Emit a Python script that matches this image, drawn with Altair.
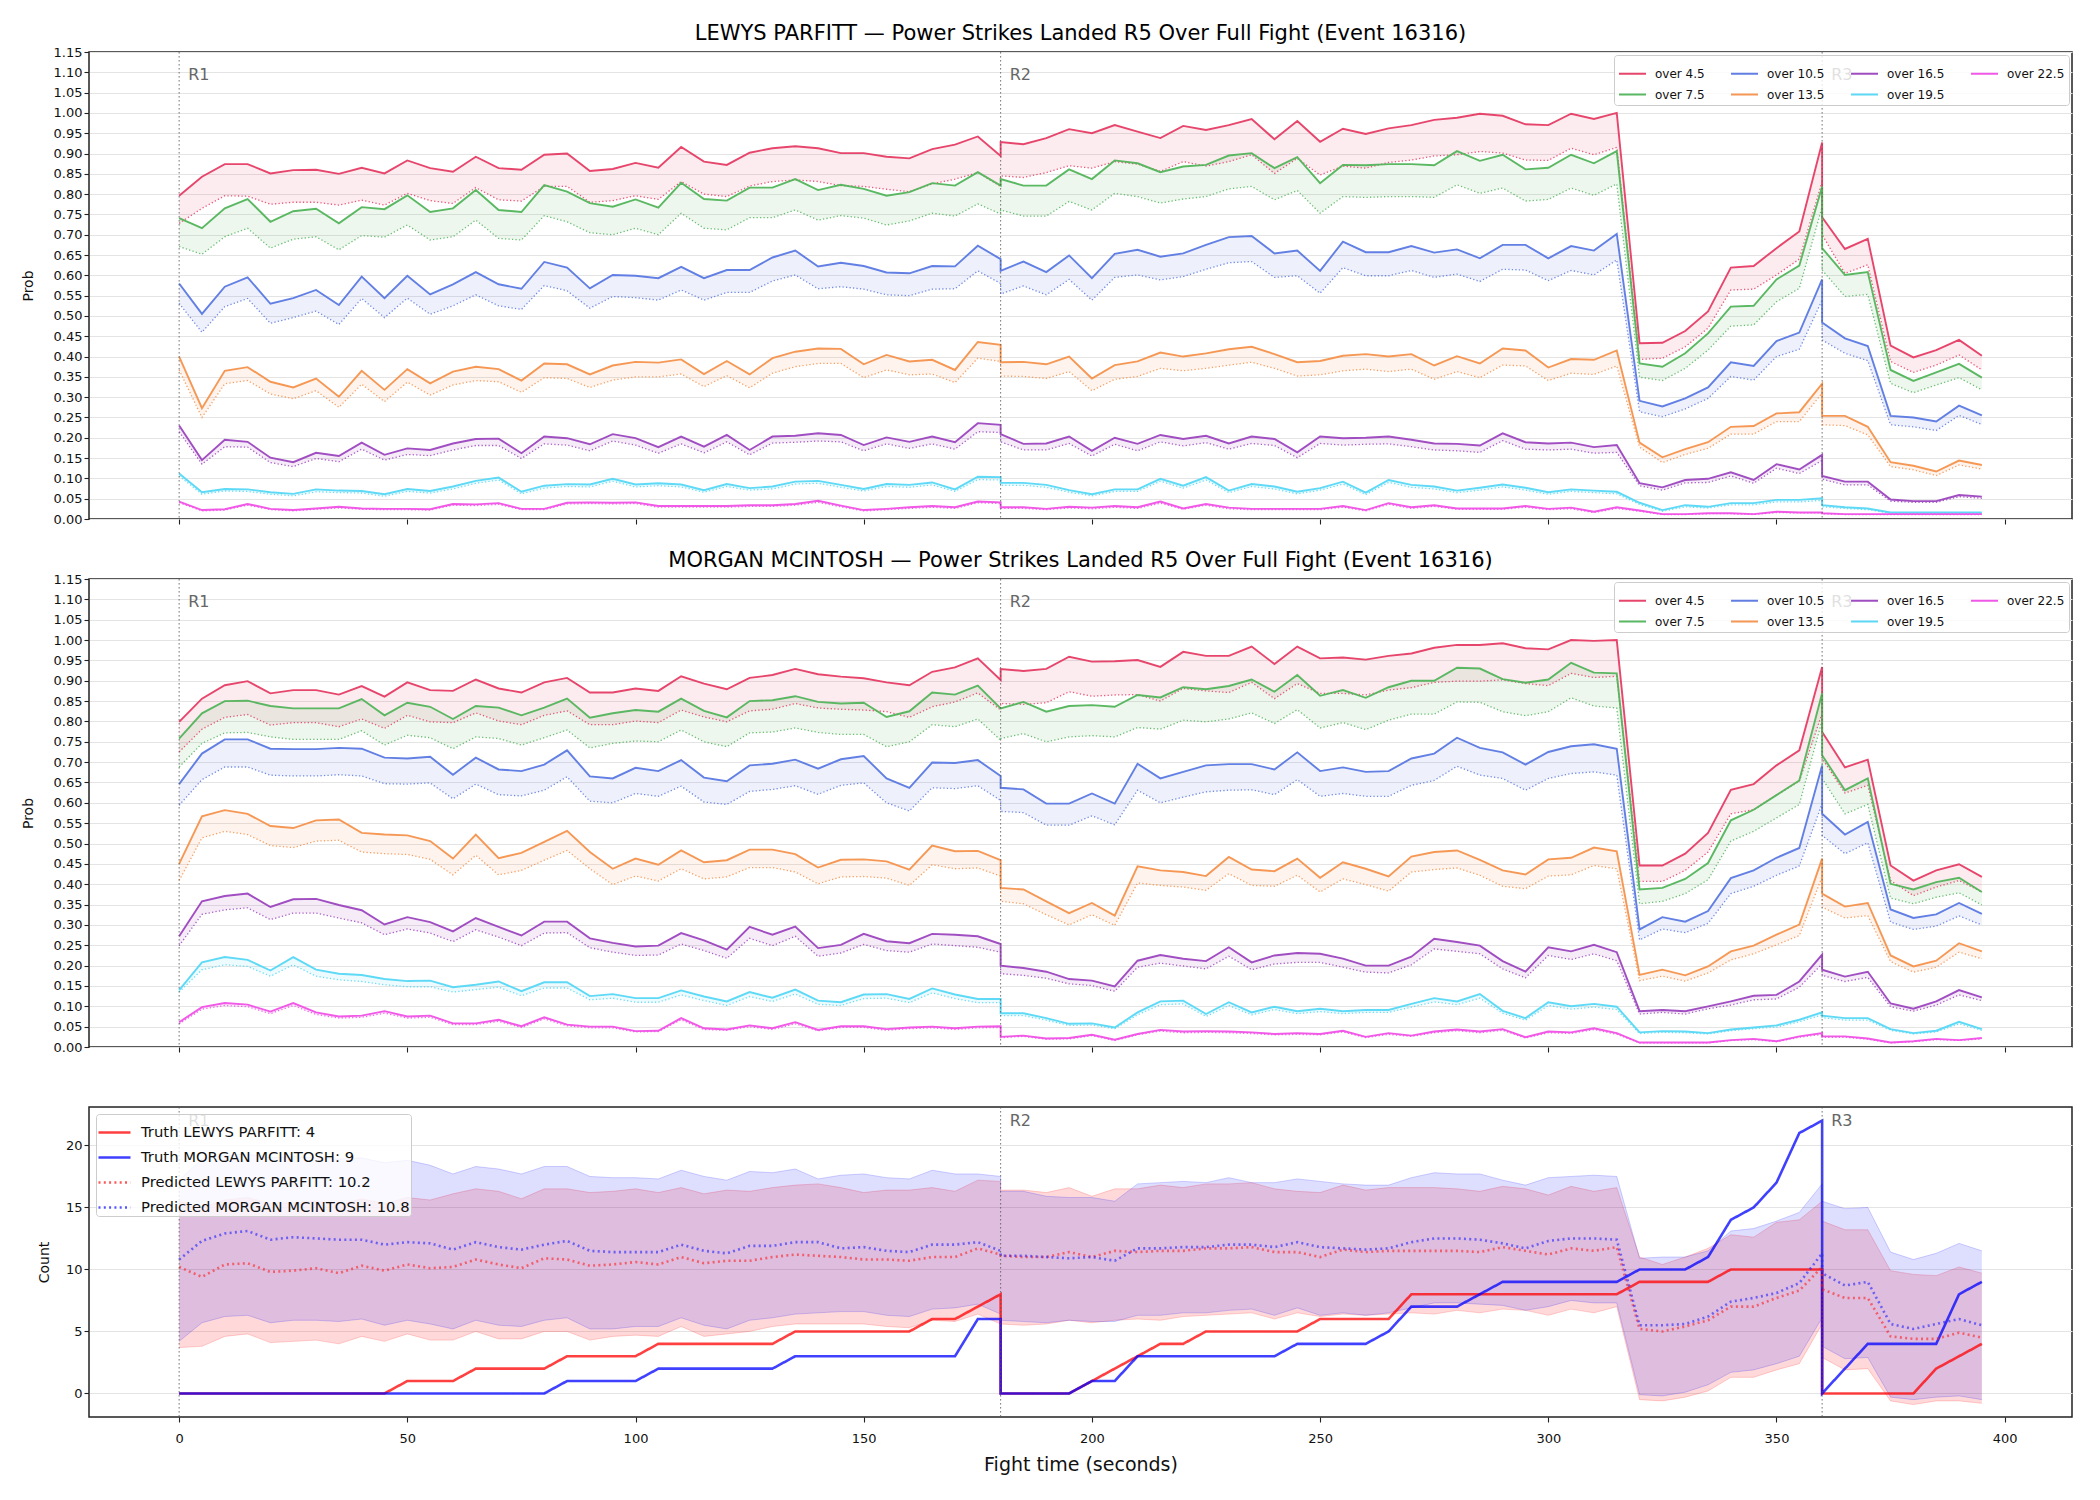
import altair as alt
import pandas as pd

FONT = "DejaVu Sans"

# Time grid in seconds; round boundaries appear twice so each round starts fresh
R1_T = list(range(0, 181, 5))
R2_T = list(range(180, 361, 5))
R3_T = list(range(360, 396, 5))
TIMES = R1_T + R2_T + R3_T

SERIES = ["over 4.5", "over 7.5", "over 10.5", "over 13.5", "over 16.5", "over 19.5", "over 22.5"]
SERIES_KEYS = ["k45", "k75", "k105", "k135", "k165", "k195", "k225"]
SERIES_COLORS = ["#e63c64", "#52b45a", "#5a78e1", "#f5924c", "#9b44be", "#55d7f5", "#f050e6"]

ROUND_T = [0, 180, 360]
ROUND_LABELS = ["R1", "R2", "R3"]

X_DOMAIN = [-19.75, 414.75]
X_TICKS = [0, 50, 100, 150, 200, 250, 300, 350, 400]
PROB_TICKS = [0.00, 0.05, 0.10, 0.15, 0.20, 0.25, 0.30, 0.35, 0.40, 0.45, 0.50, 0.55,
              0.60, 0.65, 0.70, 0.75, 0.80, 0.85, 0.90, 0.95, 1.00, 1.05, 1.10, 1.15]
COUNT_TICKS = [0, 5, 10, 15, 20]

# ---------------- LEWYS PARFITT: live (solid) and baseline (dotted) ----------------
LP_45 = [0.796, 0.843, 0.874, 0.874, 0.851, 0.859, 0.860, 0.850, 0.865, 0.851, 0.883, 0.864, 0.855, 0.892, 0.864, 0.860, 0.897, 0.900, 0.857, 0.862, 0.877, 0.865, 0.916, 0.880, 0.872, 0.902, 0.913, 0.918, 0.913, 0.901, 0.901, 0.892, 0.888, 0.911, 0.922, 0.942, 0.894,
         0.928, 0.923, 0.938, 0.960, 0.950, 0.970, 0.954, 0.938, 0.968, 0.958, 0.970, 0.985, 0.935, 0.980, 0.929, 0.961, 0.948, 0.962, 0.970, 0.983, 0.988, 0.998, 0.993, 0.972, 0.970, 0.998, 0.985, 1.000, 0.433, 0.434, 0.463, 0.511, 0.619, 0.623, 0.667, 0.708, 0.927,
         0.743, 0.665, 0.690, 0.427, 0.398, 0.416, 0.441, 0.402]
LP_45_D = [0.728, 0.765, 0.796, 0.795, 0.775, 0.780, 0.780, 0.773, 0.785, 0.773, 0.802, 0.784, 0.777, 0.816, 0.786, 0.783, 0.819, 0.819, 0.780, 0.784, 0.796, 0.787, 0.831, 0.800, 0.794, 0.820, 0.831, 0.835, 0.831, 0.821, 0.819, 0.812, 0.806, 0.825, 0.837, 0.853, 0.819,
           0.845, 0.841, 0.853, 0.870, 0.864, 0.880, 0.874, 0.856, 0.880, 0.869, 0.880, 0.897, 0.851, 0.888, 0.847, 0.869, 0.864, 0.878, 0.884, 0.894, 0.897, 0.905, 0.901, 0.884, 0.883, 0.913, 0.897, 0.915, 0.393, 0.396, 0.424, 0.470, 0.564, 0.566, 0.601, 0.640, 0.831,
           0.700, 0.605, 0.626, 0.388, 0.361, 0.379, 0.404, 0.367]
LP_75 = [0.741, 0.716, 0.765, 0.788, 0.732, 0.758, 0.764, 0.728, 0.768, 0.763, 0.797, 0.756, 0.765, 0.810, 0.761, 0.756, 0.822, 0.806, 0.778, 0.769, 0.787, 0.767, 0.828, 0.788, 0.784, 0.816, 0.816, 0.837, 0.810, 0.823, 0.813, 0.796, 0.805, 0.827, 0.821, 0.854, 0.821,
         0.837, 0.821, 0.821, 0.861, 0.837, 0.883, 0.876, 0.854, 0.868, 0.872, 0.895, 0.901, 0.864, 0.891, 0.827, 0.872, 0.871, 0.874, 0.874, 0.871, 0.906, 0.882, 0.897, 0.861, 0.865, 0.897, 0.876, 0.906, 0.383, 0.375, 0.408, 0.457, 0.523, 0.525, 0.590, 0.624, 0.819,
         0.667, 0.601, 0.608, 0.367, 0.340, 0.361, 0.382, 0.348]
LP_75_D = [0.671, 0.652, 0.695, 0.716, 0.667, 0.689, 0.695, 0.663, 0.698, 0.694, 0.724, 0.687, 0.695, 0.736, 0.691, 0.687, 0.747, 0.732, 0.705, 0.700, 0.716, 0.700, 0.753, 0.716, 0.712, 0.742, 0.742, 0.761, 0.736, 0.747, 0.741, 0.724, 0.734, 0.753, 0.746, 0.776, 0.751,
           0.761, 0.746, 0.746, 0.782, 0.761, 0.802, 0.794, 0.778, 0.788, 0.794, 0.813, 0.819, 0.786, 0.809, 0.753, 0.794, 0.792, 0.794, 0.794, 0.792, 0.823, 0.802, 0.815, 0.783, 0.787, 0.815, 0.797, 0.825, 0.349, 0.341, 0.371, 0.416, 0.475, 0.478, 0.535, 0.568, 0.769,
           0.613, 0.548, 0.553, 0.334, 0.311, 0.330, 0.348, 0.318]
LP_105 = [0.580, 0.505, 0.572, 0.595, 0.530, 0.544, 0.564, 0.527, 0.597, 0.544, 0.599, 0.553, 0.578, 0.608, 0.578, 0.567, 0.633, 0.619, 0.568, 0.601, 0.599, 0.593, 0.621, 0.593, 0.613, 0.613, 0.644, 0.661, 0.622, 0.631, 0.623, 0.607, 0.605, 0.623, 0.622, 0.673, 0.640,
          0.611, 0.634, 0.608, 0.649, 0.593, 0.653, 0.663, 0.646, 0.654, 0.675, 0.694, 0.697, 0.654, 0.661, 0.611, 0.683, 0.657, 0.657, 0.672, 0.656, 0.664, 0.642, 0.675, 0.675, 0.642, 0.672, 0.661, 0.702, 0.291, 0.277, 0.297, 0.324, 0.386, 0.377, 0.438, 0.459, 0.590,
          0.484, 0.445, 0.426, 0.254, 0.250, 0.240, 0.279, 0.255]
LP_105_D = [0.531, 0.460, 0.523, 0.543, 0.482, 0.496, 0.512, 0.479, 0.543, 0.496, 0.544, 0.504, 0.525, 0.552, 0.525, 0.516, 0.575, 0.562, 0.519, 0.548, 0.545, 0.539, 0.564, 0.539, 0.558, 0.558, 0.586, 0.601, 0.567, 0.572, 0.566, 0.552, 0.550, 0.566, 0.567, 0.611, 0.580,
            0.554, 0.574, 0.552, 0.590, 0.539, 0.595, 0.601, 0.589, 0.597, 0.615, 0.631, 0.634, 0.595, 0.599, 0.556, 0.619, 0.599, 0.599, 0.612, 0.595, 0.603, 0.585, 0.615, 0.613, 0.587, 0.612, 0.601, 0.638, 0.264, 0.252, 0.271, 0.297, 0.351, 0.342, 0.400, 0.418, 0.539,
            0.441, 0.408, 0.390, 0.232, 0.227, 0.218, 0.255, 0.233]
LP_135 = [0.400, 0.273, 0.365, 0.374, 0.338, 0.324, 0.346, 0.301, 0.365, 0.318, 0.369, 0.334, 0.363, 0.375, 0.369, 0.341, 0.383, 0.381, 0.356, 0.378, 0.387, 0.385, 0.393, 0.357, 0.389, 0.356, 0.396, 0.412, 0.420, 0.419, 0.381, 0.404, 0.388, 0.392, 0.367, 0.436, 0.429,
          0.386, 0.387, 0.381, 0.400, 0.346, 0.379, 0.388, 0.410, 0.400, 0.408, 0.418, 0.424, 0.406, 0.386, 0.389, 0.402, 0.406, 0.400, 0.406, 0.378, 0.401, 0.383, 0.420, 0.415, 0.373, 0.394, 0.392, 0.415, 0.188, 0.152, 0.172, 0.189, 0.227, 0.229, 0.260, 0.263, 0.333,
          0.254, 0.254, 0.227, 0.140, 0.131, 0.117, 0.144, 0.133]
LP_135_D = [0.367, 0.250, 0.333, 0.341, 0.308, 0.296, 0.316, 0.275, 0.332, 0.289, 0.337, 0.305, 0.330, 0.341, 0.338, 0.312, 0.348, 0.346, 0.324, 0.342, 0.350, 0.350, 0.357, 0.326, 0.353, 0.323, 0.359, 0.375, 0.383, 0.383, 0.348, 0.367, 0.355, 0.357, 0.336, 0.396, 0.388,
            0.352, 0.351, 0.346, 0.363, 0.316, 0.344, 0.351, 0.371, 0.365, 0.371, 0.379, 0.386, 0.371, 0.352, 0.355, 0.365, 0.369, 0.363, 0.369, 0.344, 0.363, 0.348, 0.379, 0.377, 0.341, 0.359, 0.356, 0.377, 0.177, 0.139, 0.159, 0.174, 0.209, 0.209, 0.240, 0.240, 0.310,
            0.232, 0.230, 0.207, 0.129, 0.121, 0.107, 0.133, 0.123]
LP_165 = [0.230, 0.145, 0.195, 0.190, 0.151, 0.140, 0.163, 0.155, 0.188, 0.158, 0.174, 0.170, 0.186, 0.197, 0.198, 0.162, 0.203, 0.199, 0.184, 0.209, 0.199, 0.177, 0.203, 0.178, 0.207, 0.170, 0.203, 0.205, 0.211, 0.207, 0.182, 0.201, 0.190, 0.203, 0.189, 0.236, 0.232,
          0.209, 0.185, 0.186, 0.203, 0.168, 0.200, 0.185, 0.207, 0.197, 0.205, 0.186, 0.203, 0.197, 0.164, 0.203, 0.199, 0.200, 0.203, 0.195, 0.186, 0.185, 0.181, 0.211, 0.189, 0.186, 0.188, 0.177, 0.182, 0.088, 0.078, 0.096, 0.099, 0.115, 0.096, 0.135, 0.122, 0.158,
          0.106, 0.092, 0.092, 0.048, 0.044, 0.044, 0.059, 0.055]
LP_165_D = [0.215, 0.135, 0.178, 0.177, 0.139, 0.129, 0.149, 0.141, 0.172, 0.145, 0.159, 0.156, 0.170, 0.181, 0.181, 0.149, 0.185, 0.182, 0.168, 0.192, 0.182, 0.162, 0.185, 0.163, 0.190, 0.158, 0.187, 0.189, 0.192, 0.190, 0.168, 0.185, 0.174, 0.185, 0.172, 0.215, 0.213,
            0.190, 0.170, 0.170, 0.186, 0.155, 0.184, 0.168, 0.190, 0.180, 0.188, 0.172, 0.186, 0.181, 0.151, 0.186, 0.182, 0.184, 0.185, 0.178, 0.170, 0.168, 0.164, 0.193, 0.172, 0.170, 0.172, 0.162, 0.164, 0.082, 0.071, 0.089, 0.090, 0.106, 0.088, 0.125, 0.112, 0.144,
            0.098, 0.084, 0.084, 0.044, 0.041, 0.041, 0.055, 0.051]
LP_195 = [0.112, 0.066, 0.074, 0.073, 0.066, 0.062, 0.073, 0.070, 0.069, 0.061, 0.074, 0.069, 0.080, 0.094, 0.102, 0.067, 0.082, 0.086, 0.085, 0.099, 0.085, 0.088, 0.085, 0.071, 0.086, 0.076, 0.080, 0.092, 0.094, 0.084, 0.074, 0.086, 0.084, 0.090, 0.073, 0.104, 0.103,
          0.089, 0.089, 0.084, 0.071, 0.061, 0.073, 0.073, 0.099, 0.082, 0.103, 0.070, 0.086, 0.080, 0.067, 0.076, 0.092, 0.065, 0.096, 0.084, 0.080, 0.070, 0.077, 0.085, 0.077, 0.066, 0.073, 0.070, 0.067, 0.040, 0.022, 0.034, 0.030, 0.039, 0.039, 0.047, 0.047, 0.051,
          0.034, 0.029, 0.026, 0.016, 0.016, 0.016, 0.016, 0.016]
LP_195_D = [0.106, 0.061, 0.069, 0.068, 0.061, 0.057, 0.067, 0.065, 0.064, 0.056, 0.068, 0.064, 0.074, 0.088, 0.096, 0.062, 0.076, 0.080, 0.079, 0.093, 0.079, 0.082, 0.079, 0.066, 0.080, 0.071, 0.074, 0.086, 0.088, 0.078, 0.069, 0.080, 0.078, 0.084, 0.068, 0.097, 0.096,
            0.083, 0.083, 0.078, 0.066, 0.057, 0.068, 0.068, 0.093, 0.076, 0.096, 0.065, 0.080, 0.074, 0.062, 0.071, 0.086, 0.060, 0.090, 0.078, 0.074, 0.065, 0.071, 0.079, 0.071, 0.061, 0.068, 0.065, 0.062, 0.036, 0.019, 0.030, 0.027, 0.035, 0.035, 0.042, 0.042, 0.046,
            0.030, 0.026, 0.023, 0.014, 0.014, 0.014, 0.014, 0.014]
LP_225 = [0.043, 0.022, 0.024, 0.037, 0.025, 0.022, 0.026, 0.030, 0.026, 0.025, 0.025, 0.024, 0.037, 0.036, 0.039, 0.025, 0.025, 0.040, 0.041, 0.040, 0.041, 0.032, 0.032, 0.032, 0.032, 0.034, 0.034, 0.037, 0.045, 0.033, 0.022, 0.025, 0.029, 0.032, 0.029, 0.043, 0.041,
          0.029, 0.029, 0.025, 0.030, 0.028, 0.032, 0.029, 0.043, 0.026, 0.037, 0.028, 0.025, 0.025, 0.025, 0.025, 0.032, 0.022, 0.039, 0.029, 0.034, 0.026, 0.026, 0.026, 0.032, 0.025, 0.028, 0.018, 0.029, 0.021, 0.012, 0.012, 0.014, 0.014, 0.012, 0.018, 0.016, 0.016,
          0.014, 0.012, 0.012, 0.012, 0.012, 0.012, 0.012, 0.012]
LP_225_D = [0.040, 0.020, 0.022, 0.034, 0.023, 0.020, 0.024, 0.027, 0.024, 0.023, 0.023, 0.022, 0.034, 0.033, 0.036, 0.023, 0.023, 0.037, 0.038, 0.037, 0.038, 0.029, 0.029, 0.029, 0.029, 0.031, 0.031, 0.034, 0.041, 0.030, 0.020, 0.023, 0.026, 0.029, 0.026, 0.040, 0.038,
            0.026, 0.026, 0.023, 0.027, 0.025, 0.029, 0.026, 0.039, 0.024, 0.034, 0.025, 0.023, 0.023, 0.023, 0.023, 0.029, 0.020, 0.036, 0.026, 0.031, 0.024, 0.024, 0.024, 0.029, 0.023, 0.025, 0.016, 0.026, 0.019, 0.011, 0.011, 0.013, 0.013, 0.011, 0.016, 0.015, 0.015,
            0.013, 0.011, 0.011, 0.011, 0.011, 0.011, 0.011, 0.011]

# ---------------- MORGAN MCINTOSH: live (solid) and baseline (dotted) ----------------
MM_45 = [0.799, 0.856, 0.889, 0.899, 0.869, 0.877, 0.877, 0.866, 0.887, 0.861, 0.896, 0.877, 0.875, 0.903, 0.881, 0.871, 0.896, 0.907, 0.871, 0.871, 0.881, 0.875, 0.911, 0.893, 0.879, 0.907, 0.914, 0.929, 0.916, 0.910, 0.906, 0.896, 0.889, 0.922, 0.933, 0.955, 0.902,
         0.929, 0.924, 0.929, 0.959, 0.947, 0.948, 0.951, 0.934, 0.971, 0.961, 0.961, 0.984, 0.941, 0.984, 0.955, 0.957, 0.952, 0.961, 0.967, 0.981, 0.988, 0.988, 0.992, 0.980, 0.977, 1.000, 0.998, 1.000, 0.446, 0.446, 0.475, 0.526, 0.632, 0.646, 0.692, 0.729, 0.934,
         0.774, 0.687, 0.706, 0.446, 0.409, 0.434, 0.449, 0.418]
MM_45_D = [0.725, 0.781, 0.810, 0.817, 0.791, 0.797, 0.797, 0.787, 0.806, 0.783, 0.815, 0.799, 0.797, 0.821, 0.801, 0.792, 0.815, 0.826, 0.792, 0.792, 0.801, 0.797, 0.828, 0.811, 0.799, 0.826, 0.830, 0.844, 0.833, 0.830, 0.828, 0.824, 0.810, 0.836, 0.848, 0.870, 0.828,
           0.844, 0.842, 0.846, 0.873, 0.862, 0.865, 0.866, 0.850, 0.881, 0.875, 0.871, 0.896, 0.856, 0.893, 0.869, 0.869, 0.865, 0.877, 0.883, 0.896, 0.899, 0.899, 0.902, 0.893, 0.888, 0.918, 0.908, 0.911, 0.407, 0.407, 0.434, 0.479, 0.573, 0.583, 0.619, 0.653, 0.820,
           0.709, 0.624, 0.643, 0.409, 0.372, 0.393, 0.409, 0.381]
MM_75 = [0.758, 0.820, 0.850, 0.851, 0.838, 0.832, 0.832, 0.832, 0.855, 0.815, 0.846, 0.836, 0.806, 0.838, 0.834, 0.815, 0.834, 0.856, 0.809, 0.820, 0.828, 0.824, 0.856, 0.826, 0.810, 0.850, 0.852, 0.862, 0.848, 0.844, 0.846, 0.811, 0.825, 0.871, 0.866, 0.888, 0.832,
         0.832, 0.848, 0.824, 0.838, 0.840, 0.836, 0.865, 0.859, 0.884, 0.879, 0.887, 0.903, 0.873, 0.914, 0.863, 0.877, 0.858, 0.884, 0.900, 0.900, 0.932, 0.930, 0.904, 0.895, 0.903, 0.944, 0.920, 0.918, 0.387, 0.391, 0.413, 0.452, 0.557, 0.583, 0.619, 0.655, 0.869,
         0.717, 0.631, 0.660, 0.401, 0.387, 0.405, 0.416, 0.381]
MM_75_D = [0.688, 0.746, 0.772, 0.773, 0.762, 0.756, 0.756, 0.756, 0.777, 0.742, 0.766, 0.760, 0.733, 0.762, 0.758, 0.742, 0.760, 0.779, 0.735, 0.746, 0.752, 0.750, 0.779, 0.750, 0.738, 0.772, 0.774, 0.784, 0.773, 0.768, 0.768, 0.738, 0.750, 0.792, 0.787, 0.806, 0.754,
           0.758, 0.770, 0.750, 0.762, 0.765, 0.762, 0.785, 0.781, 0.803, 0.799, 0.806, 0.821, 0.795, 0.829, 0.784, 0.797, 0.780, 0.803, 0.818, 0.818, 0.848, 0.847, 0.824, 0.814, 0.824, 0.858, 0.838, 0.833, 0.352, 0.358, 0.377, 0.411, 0.506, 0.530, 0.563, 0.596, 0.803,
           0.660, 0.573, 0.596, 0.366, 0.352, 0.368, 0.379, 0.349]
MM_105 = [0.646, 0.721, 0.756, 0.756, 0.733, 0.732, 0.732, 0.735, 0.733, 0.711, 0.709, 0.713, 0.669, 0.711, 0.682, 0.678, 0.694, 0.729, 0.665, 0.660, 0.686, 0.678, 0.705, 0.662, 0.653, 0.692, 0.696, 0.706, 0.684, 0.707, 0.715, 0.660, 0.637, 0.699, 0.698, 0.705, 0.666,
          0.637, 0.633, 0.598, 0.598, 0.623, 0.598, 0.696, 0.660, 0.676, 0.692, 0.695, 0.695, 0.682, 0.724, 0.678, 0.687, 0.676, 0.678, 0.709, 0.721, 0.760, 0.735, 0.724, 0.694, 0.725, 0.739, 0.744, 0.733, 0.289, 0.319, 0.308, 0.334, 0.415, 0.434, 0.465, 0.489, 0.692,
          0.573, 0.522, 0.553, 0.338, 0.317, 0.326, 0.354, 0.327]
MM_105_D = [0.594, 0.657, 0.688, 0.688, 0.668, 0.666, 0.666, 0.669, 0.666, 0.647, 0.646, 0.649, 0.610, 0.646, 0.620, 0.617, 0.631, 0.664, 0.604, 0.600, 0.623, 0.616, 0.641, 0.602, 0.596, 0.628, 0.633, 0.642, 0.621, 0.643, 0.649, 0.600, 0.580, 0.637, 0.635, 0.642, 0.606,
            0.579, 0.576, 0.545, 0.545, 0.568, 0.546, 0.631, 0.600, 0.614, 0.627, 0.631, 0.632, 0.620, 0.657, 0.616, 0.623, 0.616, 0.616, 0.643, 0.655, 0.690, 0.668, 0.660, 0.631, 0.660, 0.672, 0.676, 0.668, 0.263, 0.290, 0.281, 0.304, 0.377, 0.395, 0.422, 0.445, 0.598,
            0.520, 0.475, 0.502, 0.307, 0.289, 0.297, 0.322, 0.300]
MM_135 = [0.450, 0.567, 0.582, 0.573, 0.543, 0.538, 0.557, 0.559, 0.526, 0.522, 0.520, 0.506, 0.463, 0.522, 0.464, 0.477, 0.504, 0.531, 0.479, 0.438, 0.463, 0.448, 0.483, 0.454, 0.459, 0.485, 0.485, 0.474, 0.441, 0.460, 0.461, 0.456, 0.436, 0.495, 0.481, 0.482, 0.459,
          0.391, 0.387, 0.358, 0.329, 0.354, 0.323, 0.444, 0.434, 0.430, 0.420, 0.467, 0.436, 0.432, 0.463, 0.416, 0.454, 0.438, 0.419, 0.468, 0.479, 0.483, 0.460, 0.434, 0.424, 0.461, 0.465, 0.490, 0.481, 0.177, 0.190, 0.176, 0.198, 0.235, 0.249, 0.276, 0.301, 0.463,
          0.377, 0.345, 0.354, 0.225, 0.198, 0.212, 0.255, 0.235]
MM_135_D = [0.409, 0.514, 0.530, 0.522, 0.495, 0.490, 0.506, 0.508, 0.479, 0.475, 0.473, 0.461, 0.423, 0.471, 0.423, 0.434, 0.459, 0.483, 0.438, 0.399, 0.420, 0.408, 0.438, 0.413, 0.418, 0.441, 0.441, 0.430, 0.401, 0.418, 0.419, 0.415, 0.397, 0.448, 0.438, 0.440, 0.420,
            0.358, 0.352, 0.325, 0.300, 0.325, 0.299, 0.403, 0.397, 0.393, 0.385, 0.426, 0.397, 0.395, 0.422, 0.381, 0.413, 0.399, 0.383, 0.430, 0.436, 0.440, 0.422, 0.395, 0.389, 0.420, 0.423, 0.446, 0.438, 0.163, 0.174, 0.162, 0.182, 0.214, 0.229, 0.251, 0.274, 0.418,
            0.344, 0.317, 0.323, 0.210, 0.184, 0.196, 0.233, 0.217]
MM_165 = [0.272, 0.358, 0.371, 0.377, 0.344, 0.363, 0.364, 0.349, 0.336, 0.301, 0.319, 0.307, 0.284, 0.317, 0.295, 0.274, 0.308, 0.308, 0.267, 0.256, 0.247, 0.249, 0.280, 0.262, 0.239, 0.295, 0.276, 0.296, 0.243, 0.251, 0.278, 0.260, 0.255, 0.278, 0.276, 0.272, 0.253,
          0.200, 0.194, 0.185, 0.167, 0.163, 0.149, 0.212, 0.226, 0.217, 0.211, 0.245, 0.208, 0.225, 0.231, 0.229, 0.217, 0.200, 0.200, 0.222, 0.266, 0.258, 0.249, 0.211, 0.185, 0.245, 0.235, 0.251, 0.233, 0.088, 0.091, 0.088, 0.100, 0.112, 0.126, 0.128, 0.161, 0.227,
          0.190, 0.173, 0.185, 0.107, 0.094, 0.112, 0.140, 0.122]
MM_165_D = [0.249, 0.326, 0.337, 0.342, 0.313, 0.329, 0.329, 0.317, 0.305, 0.276, 0.290, 0.280, 0.259, 0.288, 0.270, 0.249, 0.280, 0.281, 0.244, 0.233, 0.225, 0.226, 0.253, 0.237, 0.218, 0.267, 0.249, 0.272, 0.223, 0.231, 0.252, 0.237, 0.233, 0.253, 0.249, 0.245, 0.233,
            0.180, 0.176, 0.169, 0.155, 0.151, 0.137, 0.196, 0.206, 0.199, 0.192, 0.223, 0.190, 0.204, 0.208, 0.208, 0.196, 0.184, 0.182, 0.202, 0.241, 0.235, 0.229, 0.192, 0.170, 0.225, 0.215, 0.229, 0.212, 0.081, 0.085, 0.081, 0.094, 0.103, 0.116, 0.118, 0.147, 0.204,
            0.176, 0.161, 0.171, 0.099, 0.088, 0.103, 0.128, 0.114]
MM_195 = [0.140, 0.208, 0.221, 0.214, 0.188, 0.221, 0.190, 0.180, 0.177, 0.167, 0.162, 0.163, 0.147, 0.153, 0.161, 0.137, 0.159, 0.159, 0.125, 0.130, 0.120, 0.120, 0.139, 0.124, 0.112, 0.135, 0.121, 0.141, 0.114, 0.110, 0.129, 0.130, 0.118, 0.144, 0.129, 0.118, 0.118,
          0.083, 0.083, 0.071, 0.057, 0.058, 0.048, 0.085, 0.112, 0.114, 0.081, 0.110, 0.085, 0.099, 0.088, 0.094, 0.088, 0.091, 0.091, 0.106, 0.120, 0.112, 0.130, 0.089, 0.071, 0.110, 0.100, 0.106, 0.099, 0.036, 0.039, 0.038, 0.034, 0.043, 0.048, 0.053, 0.067, 0.085,
          0.077, 0.071, 0.071, 0.044, 0.034, 0.040, 0.062, 0.044]
MM_195_D = [0.135, 0.190, 0.202, 0.198, 0.174, 0.202, 0.174, 0.165, 0.161, 0.153, 0.148, 0.148, 0.135, 0.141, 0.147, 0.126, 0.145, 0.145, 0.116, 0.120, 0.110, 0.110, 0.128, 0.114, 0.102, 0.124, 0.112, 0.130, 0.105, 0.102, 0.119, 0.120, 0.109, 0.133, 0.119, 0.109, 0.109,
            0.077, 0.077, 0.066, 0.053, 0.054, 0.045, 0.079, 0.104, 0.106, 0.075, 0.102, 0.079, 0.092, 0.082, 0.087, 0.082, 0.085, 0.085, 0.098, 0.111, 0.104, 0.120, 0.083, 0.066, 0.102, 0.093, 0.098, 0.092, 0.033, 0.036, 0.035, 0.032, 0.040, 0.045, 0.049, 0.062, 0.079,
            0.072, 0.066, 0.066, 0.041, 0.032, 0.037, 0.057, 0.041]
MM_225 = [0.061, 0.098, 0.108, 0.104, 0.087, 0.108, 0.085, 0.075, 0.077, 0.088, 0.075, 0.077, 0.058, 0.058, 0.067, 0.051, 0.073, 0.055, 0.050, 0.050, 0.039, 0.040, 0.071, 0.046, 0.043, 0.053, 0.046, 0.061, 0.042, 0.051, 0.051, 0.044, 0.048, 0.050, 0.046, 0.050, 0.051,
          0.025, 0.028, 0.021, 0.022, 0.030, 0.018, 0.032, 0.042, 0.038, 0.039, 0.038, 0.036, 0.032, 0.034, 0.032, 0.040, 0.025, 0.034, 0.028, 0.038, 0.043, 0.038, 0.044, 0.024, 0.038, 0.036, 0.046, 0.034, 0.011, 0.011, 0.011, 0.011, 0.017, 0.020, 0.014, 0.026, 0.034,
          0.026, 0.026, 0.021, 0.011, 0.014, 0.020, 0.017, 0.022]
MM_225_D = [0.057, 0.093, 0.102, 0.099, 0.082, 0.102, 0.080, 0.071, 0.073, 0.083, 0.071, 0.073, 0.055, 0.055, 0.063, 0.048, 0.069, 0.052, 0.047, 0.047, 0.037, 0.038, 0.067, 0.043, 0.041, 0.050, 0.043, 0.057, 0.040, 0.048, 0.048, 0.041, 0.045, 0.047, 0.043, 0.047, 0.048,
            0.023, 0.026, 0.019, 0.020, 0.028, 0.016, 0.030, 0.039, 0.035, 0.036, 0.035, 0.033, 0.030, 0.031, 0.030, 0.037, 0.023, 0.031, 0.026, 0.035, 0.040, 0.035, 0.041, 0.022, 0.035, 0.033, 0.043, 0.031, 0.010, 0.010, 0.010, 0.010, 0.016, 0.018, 0.013, 0.024, 0.031,
            0.024, 0.024, 0.019, 0.010, 0.013, 0.018, 0.016, 0.020]

# ---------------- Counts: truth so far in the round, predicted total and band ----------------
LP_TRUTH = [0, 0, 0, 0, 0, 0, 0, 0, 0, 0, 1, 1, 1, 2, 2, 2, 2, 3, 3, 3, 3, 4, 4, 4, 4, 4, 4, 5, 5, 5, 5, 5, 5, 6, 6, 7, 8,
            0, 0, 0, 0, 1, 2, 3, 4, 4, 5, 5, 5, 5, 5, 6, 6, 6, 6, 8, 8, 8, 8, 8, 8, 8, 8, 8, 8, 9, 9, 9, 9, 10, 10, 10, 10, 10,
            0, 0, 0, 0, 0, 2, 3, 4]
MM_TRUTH = [0, 0, 0, 0, 0, 0, 0, 0, 0, 0, 0, 0, 0, 0, 0, 0, 0, 1, 1, 1, 1, 2, 2, 2, 2, 2, 2, 3, 3, 3, 3, 3, 3, 3, 3, 6, 6,
            0, 0, 0, 0, 1, 1, 3, 3, 3, 3, 3, 3, 3, 4, 4, 4, 4, 5, 7, 7, 7, 8, 9, 9, 9, 9, 9, 9, 10, 10, 10, 11, 14, 15, 17, 21, 22,
            0, 2, 4, 4, 4, 4, 8, 9]
LP_PRED = [10.2, 9.4, 10.4, 10.5, 9.8, 9.9, 10.1, 9.7, 10.3, 9.9, 10.4, 10.1, 10.2, 10.8, 10.4, 10.1, 10.9, 10.8, 10.3, 10.4, 10.6, 10.4, 11.0, 10.5, 10.7, 10.7, 11.0, 11.2, 11.1, 11.0, 10.8, 10.8, 10.7, 11.0, 11.0, 11.7, 11.2,
           11.1, 11.0, 11.0, 11.4, 11.0, 11.5, 11.4, 11.5, 11.5, 11.7, 11.7, 11.8, 11.4, 11.4, 11.0, 11.6, 11.4, 11.5, 11.5, 11.5, 11.5, 11.4, 11.8, 11.5, 11.2, 11.7, 11.5, 11.8, 5.2, 5.0, 5.4, 5.9, 7.0, 7.0, 7.7, 8.3, 10.2,
           8.4, 7.7, 7.7, 4.6, 4.4, 4.4, 4.9, 4.5]
MM_PRED = [10.8, 12.3, 12.9, 13.1, 12.4, 12.6, 12.5, 12.4, 12.4, 12.0, 12.2, 12.1, 11.6, 12.2, 11.8, 11.6, 12.0, 12.3, 11.5, 11.4, 11.4, 11.4, 12.0, 11.5, 11.3, 11.9, 11.9, 12.2, 12.2, 11.7, 11.8, 11.5, 11.4, 12.0, 12.0, 12.2, 11.5,
           11.1, 11.1, 11.0, 10.9, 11.0, 10.7, 11.7, 11.7, 11.8, 11.8, 12.0, 12.0, 11.8, 12.2, 11.8, 11.7, 11.6, 11.7, 12.2, 12.5, 12.5, 12.4, 12.1, 11.7, 12.3, 12.5, 12.5, 12.4, 5.5, 5.5, 5.6, 6.2, 7.4, 7.7, 8.1, 8.9, 11.3,
           9.7, 8.7, 9.0, 5.6, 5.2, 5.6, 6.0, 5.5]
LP_LO = [3.7, 3.8, 4.6, 4.8, 4.1, 4.2, 4.3, 4.0, 4.6, 4.2, 4.8, 4.3, 4.3, 5.0, 4.4, 4.4, 5.0, 5.0, 4.3, 4.6, 4.7, 4.6, 5.4, 4.6, 4.8, 5.0, 5.4, 5.6, 5.6, 5.6, 5.6, 5.4, 5.3, 5.9, 5.8, 6.4, 5.6,
         5.6, 5.5, 5.6, 5.9, 5.7, 5.9, 6.0, 5.9, 6.2, 6.3, 6.4, 6.5, 6.0, 6.5, 6.2, 6.4, 6.3, 6.4, 6.5, 6.4, 6.7, 6.5, 6.8, 6.7, 6.3, 6.8, 6.5, 7.0, -0.5, -0.6, -0.3, 0.2, 1.3, 1.3, 1.9, 2.4, 5.6,
         2.9, 1.9, 2.0, -0.6, -0.9, -0.6, -0.6, -0.8]
LP_HI = [15.5, 15.0, 15.6, 15.8, 15.3, 15.4, 15.5, 15.2, 15.7, 15.3, 15.8, 15.6, 16.1, 16.5, 16.3, 15.7, 16.5, 16.5, 16.2, 16.3, 16.5, 16.2, 16.6, 16.1, 16.4, 16.3, 16.6, 16.8, 16.9, 16.6, 16.2, 16.4, 16.4, 16.6, 16.3, 17.2, 17.1,
         16.4, 16.4, 16.2, 16.6, 15.9, 16.5, 16.5, 16.8, 16.6, 16.9, 16.9, 17.0, 16.5, 16.3, 16.2, 16.8, 16.4, 16.6, 16.6, 16.6, 16.5, 16.3, 16.7, 16.5, 16.0, 16.7, 16.3, 16.6, 11.0, 10.4, 11.0, 11.7, 12.8, 12.6, 13.8, 14.0, 15.5,
         13.9, 13.2, 13.2, 9.9, 9.6, 9.5, 10.2, 9.7]
MM_LO = [4.2, 5.7, 6.2, 6.3, 5.7, 5.9, 5.9, 5.8, 6.0, 5.5, 5.9, 5.6, 5.2, 5.9, 5.5, 5.4, 5.9, 6.1, 5.2, 5.2, 5.4, 5.4, 6.1, 5.5, 5.2, 5.9, 6.1, 6.4, 6.5, 6.6, 6.6, 6.3, 6.2, 6.8, 6.9, 7.2, 6.4,
         5.9, 5.8, 5.7, 5.9, 5.8, 5.8, 6.3, 6.3, 6.5, 6.5, 6.7, 6.8, 6.3, 6.9, 6.3, 6.5, 6.3, 6.5, 6.9, 7.3, 7.3, 7.2, 7.1, 6.7, 7.0, 7.5, 7.3, 7.3, -0.1, -0.2, 0.1, 0.7, 1.7, 1.9, 2.4, 3.0, 6.1,
         3.8, 2.8, 2.9, -0.3, -0.5, -0.3, -0.2, -0.5]
MM_HI = [17.2, 18.9, 19.2, 19.3, 19.0, 19.1, 19.0, 18.9, 19.0, 18.6, 18.8, 18.4, 17.7, 18.3, 18.1, 17.7, 18.3, 18.3, 17.5, 17.4, 17.4, 17.3, 18.0, 17.5, 17.2, 17.9, 17.8, 18.1, 17.3, 17.6, 17.7, 17.4, 17.3, 18.0, 17.7, 17.7, 17.5,
         16.3, 16.3, 15.9, 15.8, 15.8, 15.5, 16.9, 17.0, 17.1, 17.0, 17.4, 17.0, 17.0, 17.3, 17.1, 16.9, 16.8, 16.8, 17.4, 17.8, 17.7, 17.7, 17.2, 16.8, 17.4, 17.5, 17.6, 17.5, 10.9, 11.0, 11.0, 11.5, 13.1, 13.3, 13.9, 14.6, 16.9,
         15.5, 14.9, 15.0, 11.4, 10.8, 11.3, 12.1, 11.5]

LP_SOLID = [LP_45, LP_75, LP_105, LP_135, LP_165, LP_195, LP_225]
LP_DOTTED = [LP_45_D, LP_75_D, LP_105_D, LP_135_D, LP_165_D, LP_195_D, LP_225_D]
MM_SOLID = [MM_45, MM_75, MM_105, MM_135, MM_165, MM_195, MM_225]
MM_DOTTED = [MM_45_D, MM_75_D, MM_105_D, MM_135_D, MM_165_D, MM_195_D, MM_225_D]

PLOT_W = 1983


def check(name, values):
    assert len(values) == len(TIMES), f"{name}: {len(values)} values, expected {len(TIMES)}"


def prob_frame(solid, dotted):
    rows = []
    for name, key, s_vals, d_vals in zip(SERIES, SERIES_KEYS, solid, dotted):
        check(name + " solid", s_vals)
        check(name + " dotted", d_vals)
        for i, t in enumerate(TIMES):
            rows.append({"series": name, "key": key, "idx": i, "t": t, "solid": s_vals[i], "dotted": d_vals[i]})
    return pd.DataFrame(rows)


def x_enc(with_labels):
    axis_kw = dict(values=X_TICKS, grid=False, domain=False, ticks=True, tickSize=5,
                   labels=with_labels, labelFontSize=13, labelPadding=10)
    if with_labels:
        axis_kw.update(title="Fight time (seconds)", titleFontSize=19, titlePadding=10)
    else:
        axis_kw.update(title=None)
    return alt.X("t:Q", scale=alt.Scale(domain=X_DOMAIN, nice=False, zero=False), axis=alt.Axis(**axis_kw))


def round_layers(y_label, yscale, yaxis, with_labels):
    rounds = pd.DataFrame({"t": ROUND_T, "label": ROUND_LABELS, "ly": [y_label] * len(ROUND_T)})
    rules = alt.Chart(rounds).mark_rule(color="#555555", strokeDash=[1.6, 2.4], strokeWidth=1, opacity=0.8).encode(
        x=x_enc(with_labels))
    texts = alt.Chart(rounds).mark_text(align="left", baseline="middle", dx=9, fontSize=16, font=FONT,
                                        color="#666666").encode(
        x=x_enc(with_labels), y=alt.Y("ly:Q", scale=yscale, axis=yaxis), text="label:N")
    return rules, texts


def prob_panel(solid, dotted, title, height):
    df = prob_frame(solid, dotted)
    x = x_enc(False)
    yscale = alt.Scale(domain=[0, 1.15], nice=False, zero=False)
    yaxis = alt.Axis(values=PROB_TICKS, format=".2f", title="Prob", grid=True, domain=False,
                     tickSize=5, titlePadding=18, titleFontSize=14, labelFontSize=13)
    # legend fills column by column: (4.5, 7.5), (10.5, 13.5), (16.5, 19.5), (22.5)
    cscale = alt.Scale(domain=SERIES, range=SERIES_COLORS)
    kscale = alt.Scale(domain=SERIES_KEYS, range=SERIES_COLORS)
    legend = alt.Legend(title=None, orient="top-right", offset=3, columns=4, columnPadding=22, rowPadding=-1,
                        symbolType="stroke", symbolSize=729, symbolStrokeWidth=2, labelFont=FONT,
                        labelFontSize=12, labelColor="#111111", labelOffset=8, labelLimit=300,
                        fillColor="rgba(255,255,255,0.8)", strokeColor="#cccccc", cornerRadius=3, padding=4)
    base = alt.Chart(df)
    # shaded gap between live and baseline curves
    band = base.mark_area(opacity=0.1).encode(
        x=x, y=alt.Y("dotted:Q", scale=yscale, axis=yaxis), y2=alt.Y2("solid"),
        fill=alt.Fill("key:N", scale=kscale, legend=None), detail="key:N")
    # baseline curves
    dots = base.mark_line(strokeWidth=1.3, strokeDash=[1.3, 2.2], opacity=0.85).encode(
        x=x, y=alt.Y("dotted:Q", scale=yscale, axis=yaxis),
        stroke=alt.Stroke("key:N", scale=kscale, legend=None), order=alt.Order("idx:Q"))
    # live curves, carrying the legend
    solid_line = base.mark_line(strokeWidth=1.9, opacity=0.95).encode(
        x=x, y=alt.Y("solid:Q", scale=yscale, axis=yaxis),
        color=alt.Color("series:N", scale=cscale, legend=legend), order=alt.Order("idx:Q"))
    rules, texts = round_layers(1.15 * 0.95, yscale, yaxis, False)
    return alt.layer(band, dots, solid_line, rules, texts).properties(
        width=PLOT_W, height=height,
        title=alt.TitleParams(title, font=FONT, fontSize=21, fontWeight="normal", anchor="middle", offset=2))


def count_panel(height):
    for name, vals in [("LP_TRUTH", LP_TRUTH), ("MM_TRUTH", MM_TRUTH), ("LP_PRED", LP_PRED), ("MM_PRED", MM_PRED),
                       ("LP_LO", LP_LO), ("LP_HI", LP_HI), ("MM_LO", MM_LO), ("MM_HI", MM_HI)]:
        check(name, vals)
    x = x_enc(True)
    ydom = [-1.9, 23.1]
    yscale = alt.Scale(domain=ydom, nice=False, zero=False)
    yaxis = alt.Axis(values=COUNT_TICKS, title="Count", grid=True, domain=False, tickSize=5,
                     titlePadding=14, titleFontSize=14, labelFontSize=13)

    def band(lo, hi, color, fill_op):
        bdf = pd.DataFrame({"t": TIMES, "idx": list(range(len(TIMES))), "lo": lo, "hi": hi})
        area = alt.Chart(bdf).mark_area(color=color, opacity=fill_op).encode(
            x=x, y=alt.Y("lo:Q", scale=yscale, axis=yaxis), y2=alt.Y2("hi"))
        lo_line = alt.Chart(bdf).mark_line(color=color, opacity=0.18, strokeWidth=1).encode(
            x=x, y=alt.Y("lo:Q", scale=yscale, axis=yaxis), order=alt.Order("idx:Q"))
        hi_line = alt.Chart(bdf).mark_line(color=color, opacity=0.18, strokeWidth=1).encode(
            x=x, y=alt.Y("hi:Q", scale=yscale, axis=yaxis), order=alt.Order("idx:Q"))
        return [area, lo_line, hi_line]

    keys = [f"Truth LEWYS PARFITT: {LP_TRUTH[-1]}", f"Truth MORGAN MCINTOSH: {MM_TRUTH[-1]}",
            f"Predicted LEWYS PARFITT: {LP_PRED[0]}", f"Predicted MORGAN MCINTOSH: {MM_PRED[0]}"]
    rows = []
    for key, vals in zip(keys, [LP_TRUTH, MM_TRUTH, LP_PRED, MM_PRED]):
        for i, t in enumerate(TIMES):
            rows.append({"key": key, "idx": i, "t": t, "v": vals[i]})
    ldf = pd.DataFrame(rows)
    legend = alt.Legend(title=None, orient="top-left", offset=7, symbolType="stroke", symbolSize=1024,
                        symbolStrokeWidth=2.5, labelFont=FONT, labelFontSize=14.8, labelColor="#111111",
                        labelOffset=9, labelLimit=500, rowPadding=-4, fillColor="rgba(255,255,255,0.8)",
                        strokeColor="#cccccc", cornerRadius=3, padding=1)
    cscale = alt.Scale(domain=keys, range=["#ff0000", "#0000ff", "#ff2020", "#2020ff"])
    dscale = alt.Scale(domain=keys, range=[[1, 0], [1, 0], [2, 3.3], [2, 3.3]])
    truth = alt.Chart(ldf).transform_filter(
        alt.FieldOneOfPredicate(field="key", oneOf=keys[:2])).mark_line(strokeWidth=2.6, opacity=0.75).encode(
        x=x, y=alt.Y("v:Q", scale=yscale, axis=yaxis),
        color=alt.Color("key:N", scale=cscale, legend=legend),
        strokeDash=alt.StrokeDash("key:N", scale=dscale, legend=legend),
        order=alt.Order("idx:Q"))
    pred = alt.Chart(ldf).transform_filter(
        alt.FieldOneOfPredicate(field="key", oneOf=keys[2:])).mark_line(strokeWidth=2.6, opacity=0.6).encode(
        x=x, y=alt.Y("v:Q", scale=yscale, axis=yaxis),
        color=alt.Color("key:N", scale=cscale, legend=legend),
        strokeDash=alt.StrokeDash("key:N", scale=dscale, legend=legend),
        order=alt.Order("idx:Q"))
    rules, texts = round_layers(ydom[1] * 0.95, yscale, yaxis, True)
    layers = band(LP_LO, LP_HI, "#ff0000", 0.15) + band(MM_LO, MM_HI, "#0000ff", 0.13) + [truth, pred, rules, texts]
    return alt.layer(*layers).properties(width=PLOT_W, height=height)


top = prob_panel(LP_SOLID, LP_DOTTED,
                 "LEWYS PARFITT \u2014 Power Strikes Landed R5 Over Full Fight (Event 16316)", 467)
middle = prob_panel(MM_SOLID, MM_DOTTED,
                    "MORGAN MCINTOSH \u2014 Power Strikes Landed R5 Over Full Fight (Event 16316)", 468)
bottom = count_panel(310)

chart = alt.vconcat(top, middle, bottom, spacing=60, bounds="flush").resolve_scale(
    color="independent", strokeDash="independent", fill="independent", stroke="independent", y="independent"
).resolve_legend(
    color="independent", strokeDash="independent"
).properties(
    padding={"left": 20, "top": 22, "right": 23, "bottom": 20}, background="white"
).configure_view(
    stroke="#222222", strokeWidth=1.5
).configure_axis(
    labelFont=FONT, titleFont=FONT, labelColor="#111111", titleColor="#111111",
    titleFontWeight="normal", tickColor="#222222", tickWidth=1.1, gridColor="#e4e4e4", gridWidth=1
)

chart.save("out.html", embed_options={"renderer": "svg", "actions": False})
